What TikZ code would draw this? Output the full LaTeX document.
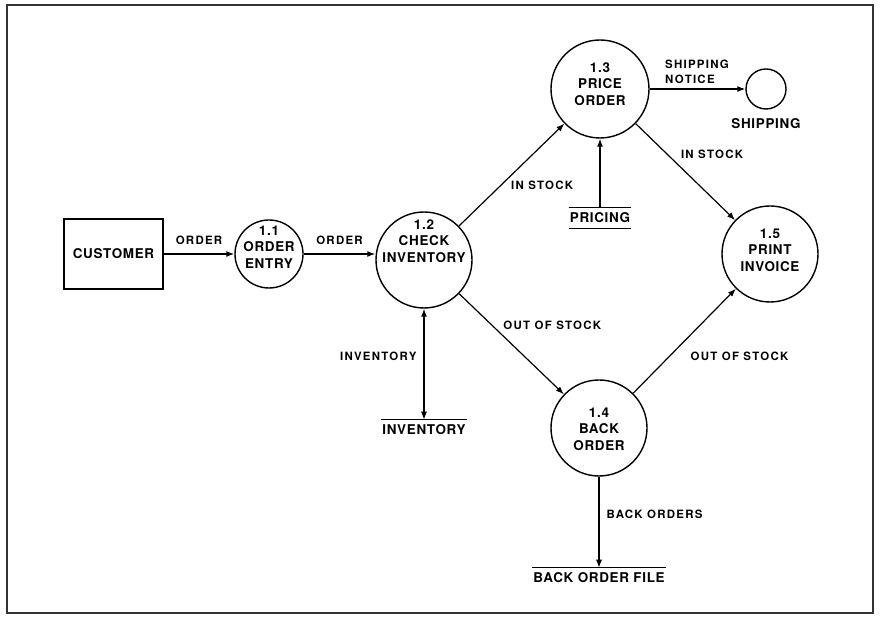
\documentclass[tikz,border=0pt]{standalone}
\usepackage{fontspec}
\setmainfont{TeX Gyre Heros}
\newfontfamily\dfdfont[LetterSpace=5]{TeX Gyre Heros}
\newfontfamily\dfdlblfont[LetterSpace=11]{TeX Gyre Heros}
\newcommand\nodefont{\dfdfont\bfseries\fontsize{13.5}{16.5}\selectfont}
\newcommand\lblfont{\dfdlblfont\bfseries\fontsize{11.5}{14.5}\selectfont}
\usetikzlibrary{arrows.meta}
\tikzset{
  proc/.style={circle, draw, line width=1.4bp, inner sep=0pt},
  ext/.style={rectangle, draw, line width=1.4bp, minimum width=99bp, minimum height=70bp, font=\nodefont},
  ptext/.style={align=center, font=\nodefont, inner sep=0pt},
  store/.style={inner xsep=1bp, inner ysep=5bp, font=\nodefont},
  dflow/.style={-{Latex[length=8bp,width=6bp]}, line width=1.2bp},
  lbl/.style={font=\lblfont, inner sep=1bp},
}
\begin{document}
\begin{tikzpicture}[x=1bp,y=1bp]
            \useasboundingbox (0,0) rectangle (881,623);
            \draw[line width=1.6bp, black!80] (7,10) rectangle (873,618);
            \node[ext] (cust) at (113.5,369) {CUSTOMER};
            \node[proc, minimum size=68bp] (p11) at (269,369) {};
            \node[ptext] (p11t) at (269,376) {1.1\\ORDER\\ENTRY};
            \node[proc, minimum size=96bp] (p12) at (424,363) {};
            \node[ptext] (p12t) at (424,382) {1.2\\CHECK\\INVENTORY};
            \node[proc, minimum size=98bp] (p13) at (600,534) {};
            \node[ptext] (p13t) at (600,539) {1.3\\PRICE\\ORDER};
            \node[proc, minimum size=96bp] (p14) at (599,195) {};
            \node[ptext] (p14t) at (599,194) {1.4\\BACK\\ORDER};
            \node[proc, minimum size=96bp] (p15) at (770,369) {};
            \node[ptext] (p15t) at (770,373) {1.5\\PRINT\\INVOICE};
            \node[proc, minimum size=40bp] (ship) at (766,534) {};
            \node[ptext] (shipt) at (766,499) {SHIPPING};
            \node[store] (pric) at (600,405) {PRICING};
            \node[store] (inv) at (424,193) {INVENTORY};
            \node[store] (bof) at (599,45) {BACK ORDER FILE};
            \draw[line width=1.2bp] (pric.north west) -- (pric.north east) (pric.south west) -- (pric.south east);
            \draw[line width=1.2bp] (inv.north west) -- (inv.north east);
            \draw[line width=1.2bp] (bof.north west) -- (bof.north east);
            \draw[dflow] (cust) -- node[lbl, above=8bp] {ORDER} (p11);
            \draw[dflow] (p11.east) -- node[lbl, above=8bp] {ORDER} (p11.east -| p12.west);
            \draw[dflow] (p12) -- node[lbl, pos=0.48, anchor=north west, yshift=-3bp] {IN STOCK} (p13);
            \draw[dflow] (p12) -- node[lbl, pos=0.37, anchor=south west, xshift=4bp] {OUT OF STOCK} (p14);
            \draw[dflow] (pric) -- (p13);
            \draw[dflow] (p13) -- node[lbl, pos=0.145, anchor=south west, yshift=4bp, align=left] {SHIPPING\\NOTICE} (ship);
            \draw[dflow] (p13) -- node[lbl, pos=0.38, anchor=south west, xshift=6bp] {IN STOCK} (p15);
            \draw[dflow] (p14) -- node[lbl, pos=0.35, anchor=west, xshift=20bp] {OUT OF STOCK} (p15);
            \draw[{Latex[length=8bp,width=6bp]}-{Latex[length=8bp,width=6bp]}, line width=1.2bp] (p12) -- node[lbl, pos=0.43, left=6bp] {INVENTORY} (inv);
            \draw[dflow] (p14) -- node[lbl, pos=0.41, right=6bp] {BACK ORDERS} (bof);
        \end{tikzpicture}
\end{document}
